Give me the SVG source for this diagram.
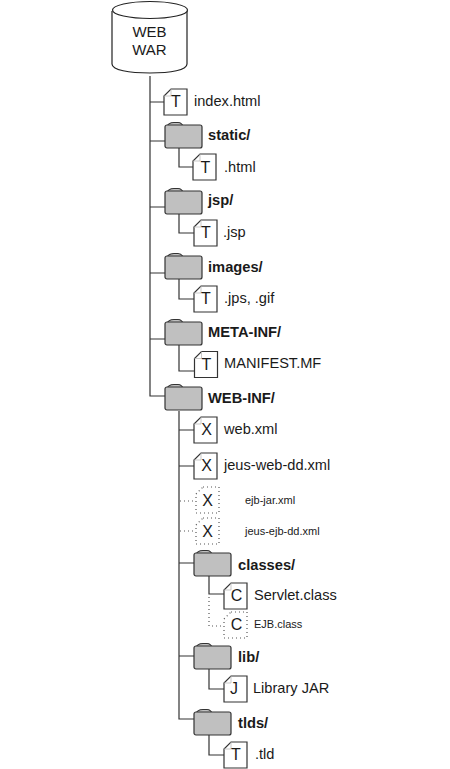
<svg xmlns="http://www.w3.org/2000/svg" width="450" height="769" viewBox="0 0 450 769">
<style>
text{font-family:"Liberation Sans",Arial,sans-serif;fill:#1a1a1a}
.l{font-size:14.600px}
.b{font-size:14.700px;font-weight:bold}
.s{font-size:11px}
.w{font-size:15px;text-anchor:middle}
.g{font-size:16px;text-anchor:middle}
.c{fill:none;stroke:#333;stroke-width:1.200}
.d{fill:none;stroke:#555;stroke-width:1.200;stroke-dasharray:1 3}
.docf{fill:#fff;stroke:#333;stroke-width:1.200}
.docd{fill:#fff;stroke:#555;stroke-width:1.200;stroke-dasharray:1 3}
.fol{fill:#c0c0c0;stroke:#333;stroke-width:1.200;stroke-linejoin:round}
</style>
<defs>
<path id="doc" d="M7 0H23V26H0V7Z"/>
<path id="fold" d="M7 0V7H0" fill="none" stroke="#bbb" stroke-width="0.800"/>
<g id="folder"><path class="fol" d="M1 3Q3 -2.500 9 -2.500H13Q17 -2.500 19 3Z"/><rect class="fol" x="0" y="0" width="37" height="23" rx="2"/></g>
</defs>
<rect width="450" height="769" fill="#fff"/>
<g id="connectors">
<path class="c" d="M150 76V396H165M150 102H164M150 141H165M150 207H165M150 273H165M150 339H165"/>
<path class="c" d="M179 148V167H194M179 214V233H194M179 279V299H194M179 345V371H195"/>
<path class="c" d="M179 411V719H194M179 430H194M179 466H194M179 563H194M179 656H194"/>
<path class="c" d="M209 576V594H224M209 669V689H224M209 735V755H224"/>
<path class="d" d="M180 501H196M180 531H196M209 597V626H224"/>
</g>
<g id="war"><path d="M112 11V64C112 70 129 73 150 73S187 70 187 64V11" fill="#fff" stroke="#222" stroke-width="1.200"/><ellipse cx="150" cy="10" rx="37.500" ry="8.500" fill="#fff" stroke="#222" stroke-width="1.200"/><text class="w" x="149.500" y="37">WEB</text><text class="w" x="149.500" y="55">WAR</text></g>
<g id="index"><use href="#doc" x="164" y="89" class="docf"/><use href="#fold" x="164" y="89"/><text class="g" x="176" y="107">T</text><text class="l" x="194" y="106">index.html</text></g>
<g id="static"><use href="#folder" x="165" y="125"/><text class="b" x="208" y="140">static/</text></g>
<g id="static-html"><use href="#doc" x="193" y="154" class="docf"/><use href="#fold" x="193" y="154"/><text class="g" x="205.500" y="173">T</text><text class="l" x="224" y="172">.html</text></g>
<g id="jsp"><use href="#folder" x="165" y="191"/><text class="b" x="208" y="205">jsp/</text></g>
<g id="jsp-file"><use href="#doc" x="194" y="220" class="docf"/><use href="#fold" x="194" y="220"/><text class="g" x="206" y="238">T</text><text class="l" x="223" y="237">.jsp</text></g>
<g id="images"><use href="#folder" x="165" y="256"/><text class="b" x="208" y="272">images/</text></g>
<g id="images-file"><use href="#doc" x="194" y="286" class="docf"/><use href="#fold" x="194" y="286"/><text class="g" x="206" y="304">T</text><text class="l" x="224" y="303">.jps, .gif</text></g>
<g id="meta-inf"><use href="#folder" x="165" y="322"/><text class="b" x="208" y="337">META-INF/</text></g>
<g id="manifest"><use href="#doc" x="194.500" y="351.500" class="docf"/><use href="#fold" x="194.500" y="351.500"/><text class="g" x="206.500" y="370">T</text><text class="l" x="224" y="368">MANIFEST.MF</text></g>
<g id="web-inf"><use href="#folder" x="165" y="387"/><text class="b" x="208" y="403">WEB-INF/</text></g>
<g id="web-xml"><use href="#doc" x="194" y="417" class="docf"/><use href="#fold" x="194" y="417"/><text class="g" x="206.500" y="435">X</text><text class="l" x="224" y="434">web.xml</text></g>
<g id="jeus-web"><use href="#doc" x="194" y="453" class="docf"/><use href="#fold" x="194" y="453"/><text class="g" x="206.500" y="471">X</text><text class="l" x="224" y="470">jeus-web-dd.xml</text></g>
<g id="ejb-jar"><use href="#doc" x="196" y="487" class="docd"/><text class="g" x="207.500" y="506">X</text><text class="s" x="245" y="504">ejb-jar.xml</text></g>
<g id="jeus-ejb"><use href="#doc" x="196" y="518" class="docd"/><text class="g" x="207.500" y="537">X</text><text class="s" x="245" y="535">jeus-ejb-dd.xml</text></g>
<g id="classes"><use href="#folder" x="194" y="553"/><text class="b" x="238" y="570">classes/</text></g>
<g id="servlet"><use href="#doc" x="224" y="583" class="docf"/><use href="#fold" x="224" y="583"/><text class="g" x="236.500" y="601">C</text><text class="l" x="254" y="600">Servlet.class</text></g>
<g id="ejb-class"><use href="#doc" x="224" y="612" class="docd"/><text class="g" x="236.500" y="630">C</text><text class="s" x="254" y="628">EJB.class</text></g>
<g id="lib"><use href="#folder" x="194" y="646"/><text class="b" x="238" y="662">lib/</text></g>
<g id="library"><use href="#doc" x="224" y="676" class="docf"/><use href="#fold" x="224" y="676"/><text class="g" x="234" y="694">J</text><text class="l" x="253" y="693">Library JAR</text></g>
<g id="tlds"><use href="#folder" x="194" y="712"/><text class="b" x="238" y="728">tlds/</text></g>
<g id="tld"><use href="#doc" x="224" y="742" class="docf"/><use href="#fold" x="224" y="742"/><text class="g" x="236" y="760">T</text><text class="l" x="255" y="759">.tld</text></g>
</svg>
